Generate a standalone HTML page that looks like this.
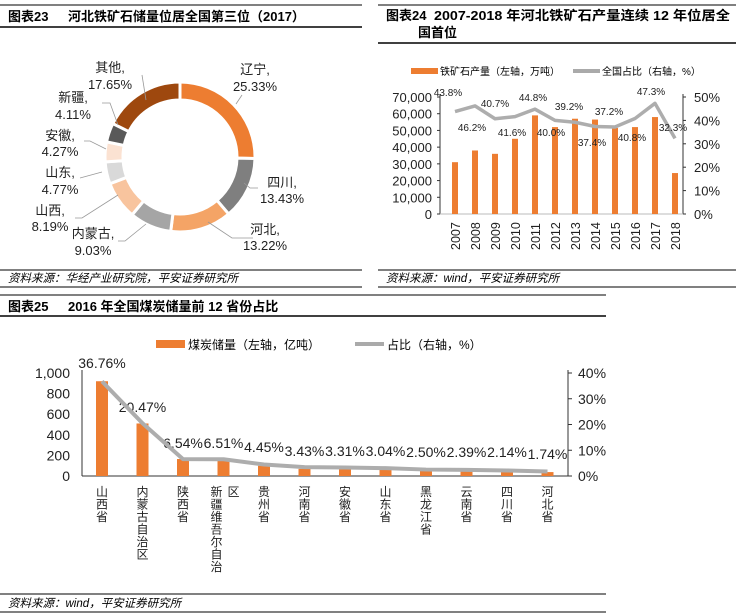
<!DOCTYPE html>
<html><head><meta charset="utf-8"><style>
body{margin:0;background:#fff;}
svg{display:block;font-family:"Liberation Sans","Noto Sans CJK SC",sans-serif;}
</style></head><body>
<svg id="s" width="736" height="616" xmlns="http://www.w3.org/2000/svg">
<rect width="736" height="616" fill="#fff"/>
<!-- chart 23 -->
<line x1="0" y1="5" x2="362" y2="5" stroke="#000" stroke-width="1"/>
<text x="8" y="21" font-size="13" font-weight="bold">图表23</text>
<text x="68" y="21" font-size="13" font-weight="bold">河北铁矿石储量位居全国第三位（2017）</text>
<line x1="0" y1="27" x2="362" y2="27" stroke="#000" stroke-width="1.5"/>
<g id="donut"></g>
<g font-size="13" text-anchor="middle" fill="#222">
<text x="255" y="74">辽宁,</text><text x="255" y="91">25.33%</text>
<text x="282" y="187">四川,</text><text x="282" y="203">13.43%</text>
<text x="265" y="234">河北,</text><text x="265" y="250">13.22%</text>
<text x="93" y="238">内蒙古,</text><text x="93" y="255">9.03%</text>
<text x="50" y="215">山西,</text><text x="50" y="231">8.19%</text>
<text x="60" y="177">山东,</text><text x="60" y="194">4.77%</text>
<text x="60" y="140">安徽,</text><text x="60" y="156">4.27%</text>
<text x="73" y="102">新疆,</text><text x="73" y="119">4.11%</text>
<text x="110" y="72">其他,</text><text x="110" y="89">17.65%</text>
</g>
<g stroke="#999" stroke-width="0.8" fill="none">
<polyline points="242,95 236,104"/>
<polyline points="258,188 250,188 244,183"/>
<polyline points="253,238 232,238 208,222"/>
<polyline points="118,241 125,241 146,224"/>
<polyline points="75,218 82,218 118,195"/>
<polyline points="80,178 102,172"/>
<polyline points="84,141 90,141 106,149"/>
<polyline points="102,103 110,103 118,125"/>
<polyline points="142,75 146,100"/>
</g>
<line x1="0" y1="270" x2="362" y2="270" stroke="#000" stroke-width="1"/>
<text x="8" y="282" font-size="11.5" font-style="italic">资料来源：华经产业研究院，平安证券研究所</text>
<line x1="0" y1="287" x2="362" y2="287" stroke="#000" stroke-width="1"/>

<!-- chart 24 -->
<line x1="378" y1="5" x2="736" y2="5" stroke="#000" stroke-width="1"/>
<text x="386" y="20" font-size="13" font-weight="bold">图表24</text>
<text x="434" y="20" font-size="13" font-weight="bold" textLength="296" lengthAdjust="spacingAndGlyphs">2007-2018 年河北铁矿石产量连续 12 年位居全</text>
<text x="418" y="37" font-size="13" font-weight="bold">国首位</text>
<line x1="378" y1="43" x2="736" y2="43" stroke="#000" stroke-width="1.5"/>
<rect x="411" y="68" width="27" height="6" fill="#ED7D31"/>
<text x="440" y="75" font-size="10">铁矿石产量（左轴，万吨）</text>
<line x1="573" y1="71" x2="600" y2="71" stroke="#aaa" stroke-width="4"/>
<text x="602" y="75" font-size="10">全国占比（右轴，%）</text>
<g id="c24"></g>
<line x1="378" y1="270" x2="736" y2="270" stroke="#000" stroke-width="1"/>
<text x="386" y="282" font-size="11.5" font-style="italic">资料来源：wind，平安证券研究所</text>
<line x1="378" y1="287" x2="736" y2="287" stroke="#000" stroke-width="1"/>

<!-- chart 25 -->
<line x1="0" y1="295" x2="606" y2="295" stroke="#000" stroke-width="1"/>
<text x="8" y="311" font-size="13" font-weight="bold">图表25</text>
<text x="68" y="311" font-size="13" font-weight="bold">2016 年全国煤炭储量前 12 省份占比</text>
<line x1="0" y1="316" x2="606" y2="316" stroke="#000" stroke-width="1.5"/>
<rect x="156" y="340" width="29" height="8" fill="#ED7D31"/>
<text x="188" y="349" font-size="12">煤炭储量（左轴，亿吨）</text>
<line x1="355" y1="344" x2="384" y2="344" stroke="#aaa" stroke-width="4"/>
<text x="387" y="349" font-size="12">占比（右轴，%）</text>
<g id="c25"></g>
<line x1="0" y1="594" x2="606" y2="594" stroke="#000" stroke-width="1"/>
<text x="8" y="607" font-size="11.5" font-style="italic">资料来源：wind，平安证券研究所</text>
<line x1="0" y1="612" x2="606" y2="612" stroke="#000" stroke-width="1"/>
</svg>
<script>
var NS="http://www.w3.org/2000/svg";
function el(p,t,a,txt){var e=document.createElementNS(NS,t);for(var k in a)e.setAttribute(k,a[k]);if(txt!=null)e.textContent=txt;p.appendChild(e);return e;}
// donut
var d=document.getElementById('donut');
var vals=[25.33,13.43,13.22,9.03,8.19,4.77,4.27,4.11,17.65];
var cols=['#ED7D31','#7F7F7F','#F4A466','#A5A5A5','#F8C49E','#D9D9D9','#FBE2D2','#595959','#9E480E'];
var cx=180,cy=157,R=75,r=57,a0=0;
vals.forEach(function(v,i){var a1=a0+v/100*2*Math.PI;
function pt(rad,a){return [cx+rad*Math.sin(a),cy-rad*Math.cos(a)];}
var p1=pt(R,a0),p2=pt(R,a1),p3=pt(r,a1),p4=pt(r,a0),lg=(a1-a0)>Math.PI?1:0;
el(d,'path',{d:'M'+p1+'A'+R+','+R+' 0 '+lg+' 1 '+p2+'L'+p3+'A'+r+','+r+' 0 '+lg+' 0 '+p4+'Z',fill:cols[i],stroke:'#fff','stroke-width':3});
a0=a1;});
// chart 24
var g=document.getElementById('c24');
var L=440,Rx=683,T=97,B=214;
var bars=[31000,38000,36000,45000,59000,52000,57000,56500,51500,52000,58000,24500];
var pc=[43.8,46.2,40.7,41.6,44.8,40.0,39.2,37.4,37.2,40.8,47.3,32.3];
var lp=[[448,92],[472,127],[495,103],[512,132],[533,97],[551,132],[569,106],[592,142],[609,111],[632,137],[651,91],[673,127]];
for(var i=0;i<=7;i++){var y=B-i*(B-T)/7;el(g,'text',{x:432,y:y+5,'font-size':13,'text-anchor':'end',fill:'#222'},i==0?'0':(i*10)+',000');el(g,'line',{x1:L-3,y1:y,x2:L,y2:y,stroke:'#333'});}
for(var i=0;i<=5;i++){var y=B-i*(B-T)/5;el(g,'text',{x:694,y:y+5,'font-size':13,fill:'#222'},(i*10)+'%');el(g,'line',{x1:Rx,y1:y,x2:Rx+3,y2:y,stroke:'#333'});}
el(g,'line',{x1:L,y1:T-3,x2:L,y2:B,stroke:'#333'});el(g,'line',{x1:Rx,y1:T-3,x2:Rx,y2:B,stroke:'#333'});
el(g,'line',{x1:L,y1:B,x2:Rx,y2:B,stroke:'#bbb'});
var pts=[];
bars.forEach(function(v,i){var x=455+i*20;var h=v/70000*(B-T);el(g,'rect',{x:x-3,y:B-h,width:6,height:h,fill:'#ED7D31'});
pts.push(x+','+(B-pc[i]/50*(B-T)));
el(g,'text',{x:x+5,y:250,'font-size':12.5,transform:'rotate(-90 '+(x+5)+' 250)',fill:'#222'},2007+i);});
el(g,'polyline',{points:pts.join(' '),fill:'none',stroke:'#ADADAD','stroke-width':3.5,'stroke-linejoin':'round'});
pc.forEach(function(v,i){el(g,'text',{x:lp[i][0],y:lp[i][1]+4,'font-size':10,'text-anchor':'middle',fill:'#222'},v.toFixed(1)+'%');});
// chart 25
var g2=document.getElementById('c25');
L=82;Rx=568;T=373;B=476;
var b2=[920,510,165,160,100,70,65,62,50,48,45,38];
var p2=[36.76,20.47,6.54,6.51,4.45,3.43,3.31,3.04,2.50,2.39,2.14,1.74];
var names=['山西省','内蒙古自治区','陕西省','新疆维吾尔自治','贵州省','河南省','安徽省','山东省','黑龙江省','云南省','四川省','河北省'];
var ly=[363,407,443,443,447,451,451,451,452,452,452,454];
function vtext(x,str){for(var k=0;k<str.length;k++)el(g2,'text',{x:x,y:496+k*12.5,'font-size':12,'text-anchor':'middle',fill:'#222'},str[k]);}
for(var i=0;i<=5;i++){var y=B-i*(B-T)/5;el(g2,'text',{x:70,y:y+5,'font-size':14,'text-anchor':'end',fill:'#222'},i==0?'0':i==5?'1,000':(i*200)+'');}
for(var i=0;i<=4;i++){var y=B-i*(B-T)/4;el(g2,'text',{x:578,y:y+5,'font-size':14,fill:'#222'},(i*10)+'%');el(g2,'line',{x1:Rx,y1:y,x2:Rx+4,y2:y,stroke:'#333'});}
el(g2,'line',{x1:L,y1:T-3,x2:L,y2:B,stroke:'#333'});el(g2,'line',{x1:Rx,y1:T-3,x2:Rx,y2:B,stroke:'#333'});
el(g2,'line',{x1:L,y1:B,x2:Rx,y2:B,stroke:'#333'});
var pts2=[];
b2.forEach(function(v,i){var x=102+i*40.5;var h=v/1000*(B-T);el(g2,'rect',{x:x-6,y:B-h,width:12,height:h,fill:'#ED7D31'});
pts2.push(x+','+(B-p2[i]/40*(B-T)));
el(g2,'text',{x:x,y:ly[i]+5,'font-size':14,'text-anchor':'middle',fill:'#222'},p2[i].toFixed(2)+'%');
vtext(i==3?x-7:x,names[i]);});
vtext(102+3*40.5+10,'区');
el(g2,'polyline',{points:pts2.join(' '),fill:'none',stroke:'#ADADAD','stroke-width':4,'stroke-linejoin':'round'});
</script>
</body></html>
